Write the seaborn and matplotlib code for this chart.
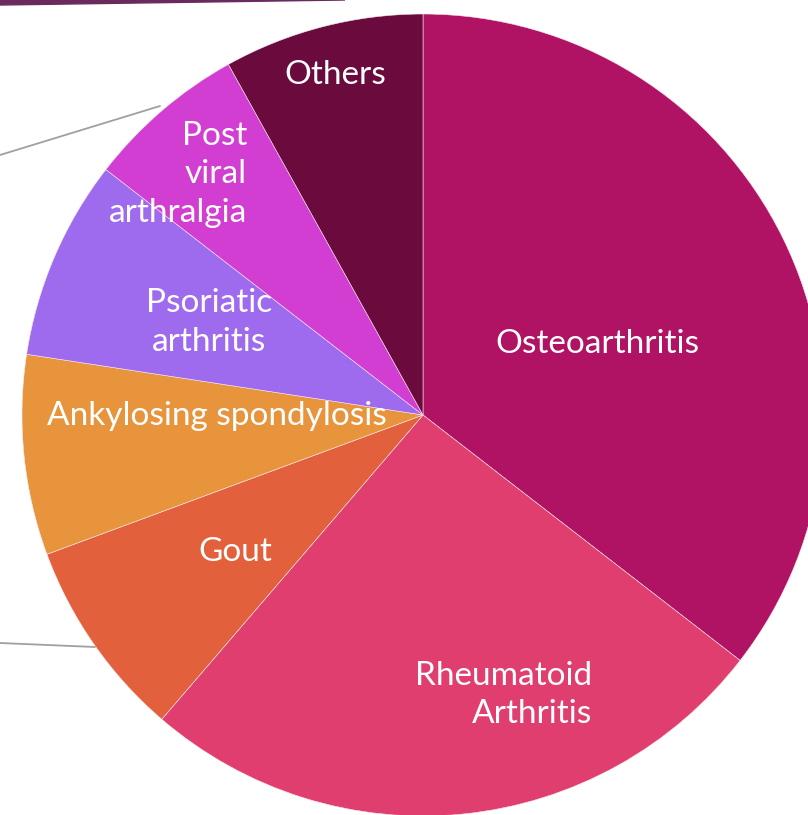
import numpy as np
import matplotlib
matplotlib.use('Agg')
import matplotlib.pyplot as plt
import seaborn as sns

# data (counts, total 62)
labels = ['Osteoarthritis', 'Rheumatoid\nArthritis', 'Gout', 'Ankylosing spondylosis',
          'Psoriatic\narthritis', 'Post\nviral\narthralgia', 'Others']
counts = [22, 16, 5, 5, 5, 4, 5]
colors = ['#B01264', '#E03E6E', '#E2603C', '#E8943C', '#9E6BEE', '#D23ED2', '#6B0A3C']

# label anchor points (pie radius = 1) and alignment
lab_xy = [(0.434, 0.178), (0.421, -0.698), (-0.469, -0.341), (-0.514, -0.003),
          (-0.534, 0.231), (-0.439, 0.600), (-0.219, 0.847)]
lab_ha = ['center', 'right', 'center', 'center', 'center', 'right', 'center']

sns.set_style('white')
plt.rcParams['font.family'] = ['Lato', 'DejaVu Sans']

fig = plt.figure(figsize=(8.08, 8.15), dpi=100)
ax = fig.add_axes([0, 0, 1, 1])

wedges, _ = ax.pie(counts, colors=colors, startangle=90, counterclock=False,
                   radius=1.0, wedgeprops=dict(edgecolor='#f4e6ee', linewidth=0.4))

ax.set_xlim(-423 / 401, 385 / 401)
ax.set_ylim(-400 / 401, 415 / 401)
ax.set_aspect('equal')
ax.axis('off')

for i, lab in enumerate(labels):
    ax.text(lab_xy[i][0], lab_xy[i][1], lab, ha=lab_ha[i], va='center', color='white',
            fontsize=24, linespacing=1.36, multialignment=lab_ha[i])

# leader lines coming in from outside the crop
fig.add_artist(plt.Line2D([0, 160 / 808], [1 - 155 / 815, 1 - 106 / 815],
                          color='#a0a0a0', lw=1.3, transform=fig.transFigure))
fig.add_artist(plt.Line2D([0, 95 / 808], [1 - 643 / 815, 1 - 647 / 815],
                          color='#a0a0a0', lw=1.3, transform=fig.transFigure))
# purple bar at the top left
bar = plt.Polygon([[0, 1], [345 / 808, 1], [0, 1 - 5 / 815]],
                  closed=True, color='#6a2a5e', transform=fig.transFigure)
fig.add_artist(bar)

fig.savefig('out.png', dpi=100)
